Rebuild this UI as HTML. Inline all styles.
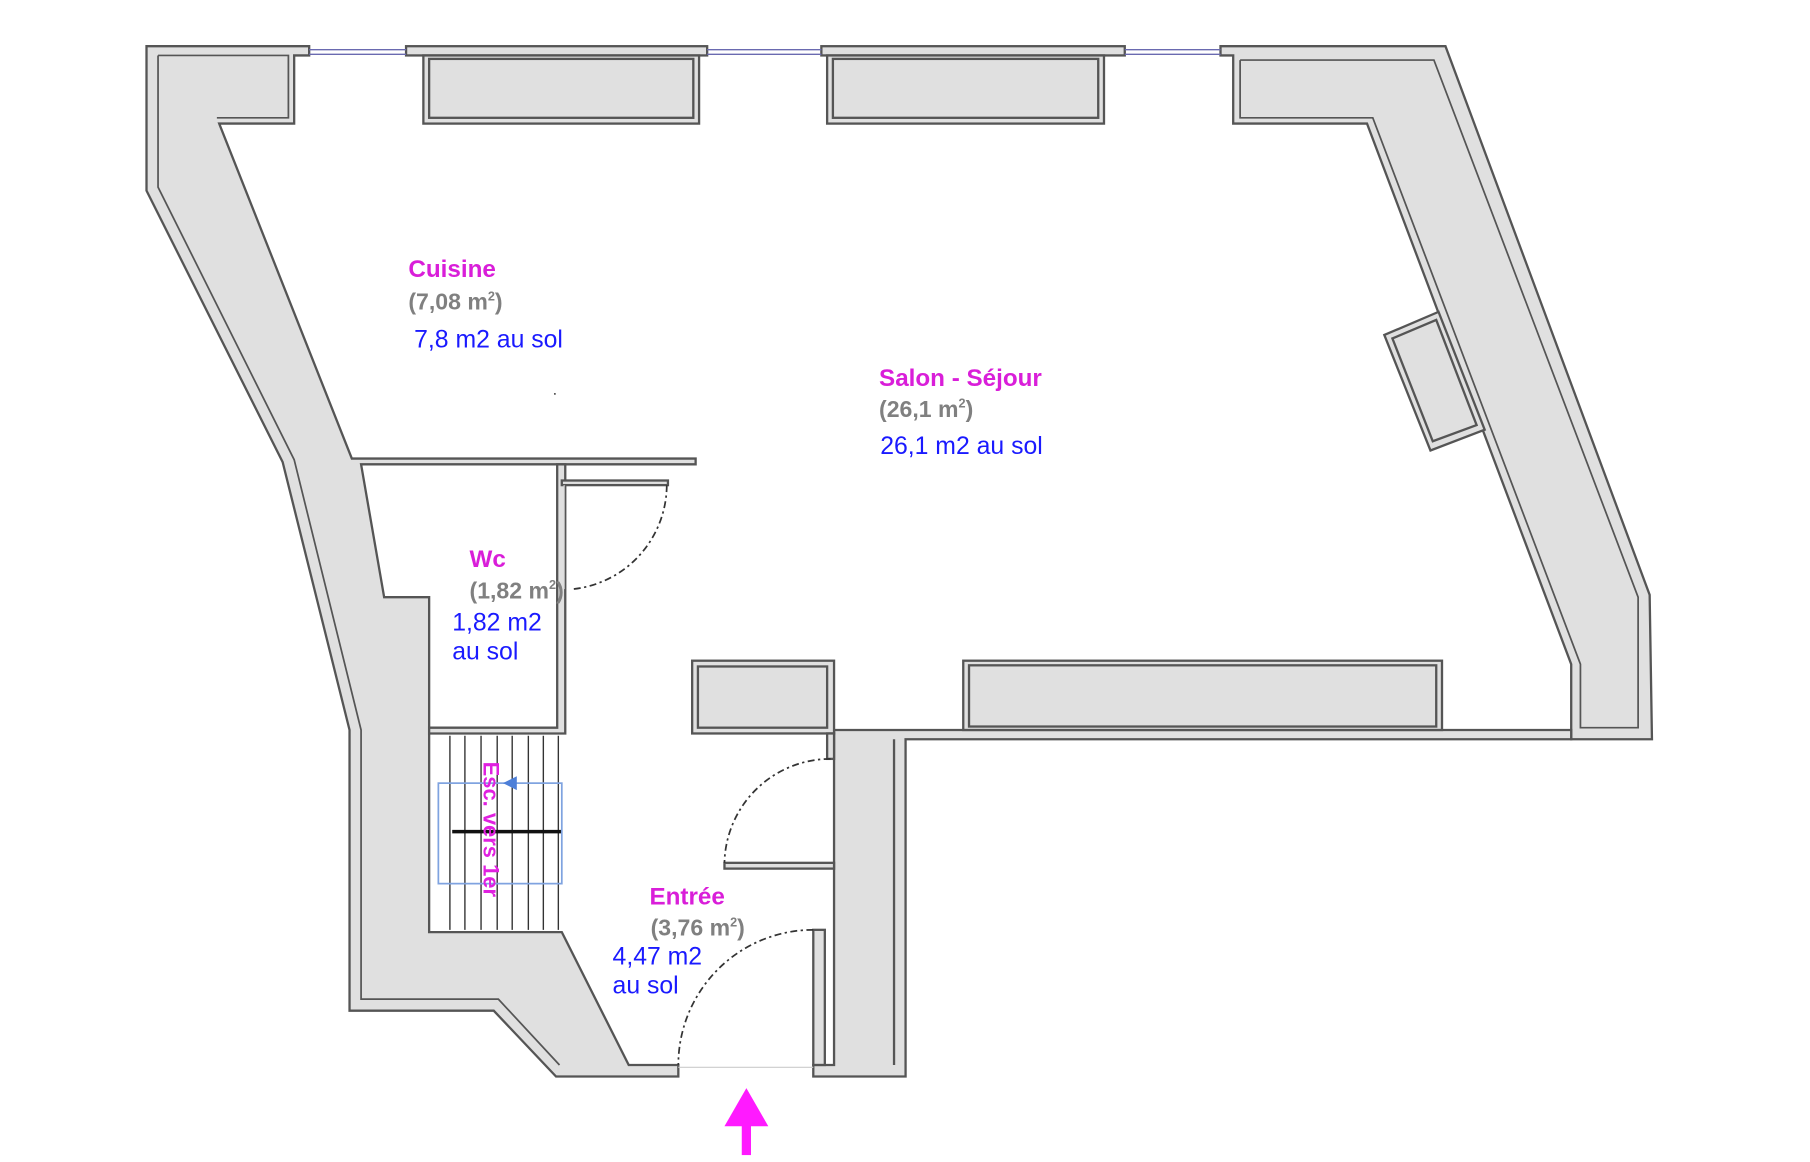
<!DOCTYPE html>
<html><head><meta charset="utf-8"><style>html,body{margin:0;padding:0;background:#fff;width:1810px;height:1162px;overflow:hidden}svg{display:block}</style></head>
<body>
<svg width="1810" height="1162" viewBox="0 0 1569 1006" preserveAspectRatio="none" xmlns="http://www.w3.org/2000/svg">
<g fill="#e0e0e0" stroke="#555" stroke-width="2" stroke-linejoin="miter">
<polygon points="127,40 268,40 268,48 255,48 255,107 190,107 305,397 603,397 603,402 313,402 333,517 372,517 372,807 487,807 545,922 588,922 588,932 482,932 428,875 303,875 303,632 245,400 127,165"/>
<polyline fill="none" stroke-width="1.5" points="137,48 137,162 255,398 313,632 313,865 432,865 485,922"/>
<polyline fill="none" stroke-width="1.5" points="137,48 250,48 250,102 188,102"/>
<rect x="352" y="40" width="261" height="8"/>
<rect x="712" y="40" width="263" height="8"/>
<rect x="367" y="48" width="239" height="59"/>
<rect x="372" y="51" width="229" height="51"/>
<rect x="717" y="48" width="240" height="59"/>
<rect x="722" y="51" width="230" height="51"/>
<polygon points="1058,40 1253,40 1430,515 1432,640 1362,640 1362,575 1185,107 1069,107 1069,48 1058,48"/>
<polyline fill="none" stroke-width="1.5" points="1075,52 1243,52 1420,517 1420,630 1370,630 1370,575 1190,102 1075,102 1075,52"/>
<polygon points="1200,290 1247,270 1287,372 1240,390"/>
<polygon points="1207,293 1245,277 1280,368 1242,382"/>
<polygon points="723,632 1362,632 1362,640 785,640 785,932 705,932 705,922 723,922"/>
<line x1="775" y1="640" x2="775" y2="922"/>
<rect x="835" y="572" width="415" height="60"/>
<rect x="840" y="576" width="405" height="53"/>
<rect x="600" y="572" width="123" height="63"/>
<rect x="605" y="577" width="112" height="53"/>
<polygon points="483,402 490,402 490,635 372,635 372,630 483,630"/>
<rect x="487" y="416" width="92" height="4"/>
<rect x="628" y="747" width="95" height="5"/>
<rect x="717" y="635" width="6" height="22"/>
<rect x="705" y="805" width="10" height="117"/>
</g>
<g stroke="#6a6ab0" stroke-width="1.2">
<line x1="268" y1="43" x2="352" y2="43"/><line x1="268" y1="47" x2="352" y2="47"/>
<line x1="613" y1="43" x2="712" y2="43"/><line x1="613" y1="47" x2="712" y2="47"/>
<line x1="975" y1="43" x2="1058" y2="43"/><line x1="975" y1="47" x2="1058" y2="47"/>
</g>
<g fill="none" stroke="#333" stroke-width="1.5" stroke-dasharray="6,3,2,3">
<path d="M578,420 A91,91 0 0 1 497,510"/>
<path d="M720,657 A92,92 0 0 0 628,747"/>
<path d="M705,805 A117,117 0 0 0 588,922"/>
</g>
<line x1="588" y1="924" x2="705" y2="924" stroke="#ccc" stroke-width="1"/>
<line x1="489" y1="420" x2="489" y2="510" stroke="#ddd" stroke-width="1"/>
<g stroke="#333" stroke-width="1.2">
<line x1="390" y1="637" x2="390" y2="805"/><line x1="403" y1="637" x2="403" y2="805"/>
<line x1="417" y1="637" x2="417" y2="805"/><line x1="431" y1="637" x2="431" y2="805"/>
<line x1="444" y1="637" x2="444" y2="805"/><line x1="458" y1="637" x2="458" y2="805"/>
<line x1="471" y1="637" x2="471" y2="805"/><line x1="484" y1="637" x2="484" y2="805"/>
</g>
<line x1="392" y1="720" x2="487" y2="720" stroke="#111" stroke-width="3"/>
<rect x="380" y="678" width="107" height="87" fill="none" stroke="#7fa3e0" stroke-width="1.5"/>
<polygon points="436,678 448,672 448,684" fill="#4d7fd8"/>
<text transform="translate(419,718) rotate(90)" text-anchor="middle" font-family="Liberation Sans, sans-serif" font-weight="bold" font-size="19" fill="#e020e0">Esc. vers 1er</text>
<g font-family="Liberation Sans, sans-serif">
<g font-weight="bold" font-size="21" fill="#d91ed9">
<text x="354" y="240">Cuisine</text>
<text x="762" y="334">Salon - Séjour</text>
<text x="407" y="491">Wc</text>
<text x="563" y="783">Entrée</text>
</g>
<g font-weight="bold" font-size="20" fill="#808080">
<text x="354" y="268">(7,08 m<tspan font-size="11" dy="-8">2</tspan><tspan dy="8">)</tspan></text>
<text x="762" y="361">(26,1 m<tspan font-size="11" dy="-8">2</tspan><tspan dy="8">)</tspan></text>
<text x="407" y="518">(1,82 m<tspan font-size="11" dy="-8">2</tspan><tspan dy="8">)</tspan></text>
<text x="564" y="810">(3,76 m<tspan font-size="11" dy="-8">2</tspan><tspan dy="8">)</tspan></text>
</g>
<g font-size="21.5" fill="#1a1aff">
<text x="359" y="301">7,8 m2 au sol</text>
<text x="763" y="393">26,1 m2 au sol</text>
<text x="392" y="546">1,82 m2</text>
<text x="392" y="571">au sol</text>
<text x="531" y="835">4,47 m2</text>
<text x="531" y="860">au sol</text>
</g>
</g>
<circle cx="481" cy="341" r="0.8" fill="#333"/>
<polygon points="628,975 666,975 647,942" fill="#ff1aff"/>
<rect x="643" y="974" width="8" height="26" fill="#ff1aff"/>
</svg>
</body></html>
